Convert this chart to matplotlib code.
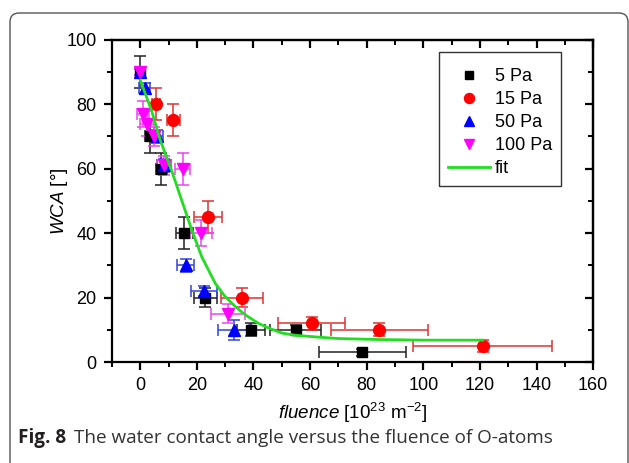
import matplotlib
matplotlib.use("Agg")
import matplotlib.pyplot as plt
from matplotlib.lines import Line2D
from matplotlib.patches import FancyBboxPatch
from matplotlib.transforms import IdentityTransform
from matplotlib.ticker import MultipleLocator

plt.rcParams["font.family"] = ["Liberation Sans", "DejaVu Sans"]
plt.rcParams["mathtext.fontset"] = "custom"
plt.rcParams["mathtext.rm"] = "Liberation Sans"
plt.rcParams["mathtext.it"] = "Liberation Sans:italic"

# 5 Pa
x_5 = [0, 3.5, 7.5, 15.5, 23, 39, 55, 78.5]
y_5 = [90, 70, 60, 40, 20, 10, 10, 3]
xe_5 = [1, 2, 2, 3, 4, 5, 9, 15.5]
ye_5 = [5, 5, 5, 5, 3, 2, 1.5, 1]

# 15 Pa
x_15 = [5.5, 11.7, 24, 36, 60.5, 84.5, 121]
y_15 = [80, 75, 45, 20, 12, 10, 5]
xe_15 = [1.5, 2.4, 5, 7.5, 12, 17, 24.5]
ye_15 = [5, 5, 5, 3, 2, 2, 2]

# 50 Pa
x_50 = [0, 1.5, 6, 8.5, 16, 22.5, 33]
y_50 = [90, 85, 70, 61, 30, 22, 10]
xe_50 = [1, 2, 2, 2.5, 3, 4.5, 5.5]
ye_50 = [1, 1.5, 2, 2, 2, 1.5, 3]

# 100 Pa
x_100 = [0, 1, 2.5, 5, 8.5, 15, 21.5, 31]
y_100 = [90, 77, 74, 70, 61, 60, 40, 15]
xe_100 = [1, 2, 2.5, 2, 2.5, 2.7, 3.8, 6]
ye_100 = [1, 4, 4, 3, 3, 5, 4, 3]

# fit
x_fit = [0, 4, 7, 11, 14.6, 18.2, 21.7, 26.5, 30, 33.6, 37, 41.8, 45, 50, 55, 62, 70, 84, 100, 121]
y_fit = [87.5, 78, 69, 59.6, 50.3, 41, 32.7, 24.4, 20.3, 17.2, 14.7, 12, 10.7, 9.0, 8.3, 7.8, 7.3, 7.0, 6.8, 6.8]

SERIES = [
    ("5 Pa", x_5, y_5, xe_5, ye_5, "s", "black", "#222222", 7),
    ("15 Pa", x_15, y_15, xe_15, ye_15, "o", "#ff0000", "#dd3333", 8.5),
    ("50 Pa", x_50, y_50, xe_50, ye_50, "^", "#0000ff", "#3344dd", 8.5),
    ("100 Pa", x_100, y_100, xe_100, ye_100, "v", "#ff00ff", "#ee44ee", 8.5),
]

fig = plt.figure(figsize=(6.29, 4.63), dpi=100)
ax = fig.add_axes([0.178, 0.218, 0.765, 0.696])

for nome, xs, ys, xe, ye, mk, cor, cor_barra, ms in SERIES:
    ax.errorbar(xs, ys, xerr=xe, yerr=ye, fmt=mk, color=cor, ms=ms, mec=cor,
                ecolor=cor_barra, elinewidth=1.1, capsize=4.5, capthick=1.1)
ax.plot(x_fit, y_fit, color="#22dd22", lw=2, zorder=5)

ax.set_xlim(-10, 160)
ax.set_ylim(0, 100)
ax.xaxis.set_major_locator(MultipleLocator(20))
ax.xaxis.set_minor_locator(MultipleLocator(10))
ax.yaxis.set_major_locator(MultipleLocator(20))
ax.yaxis.set_minor_locator(MultipleLocator(10))
ax.tick_params(which="major", direction="out", length=6, width=1.6, labelsize=13, pad=5)
ax.tick_params(which="minor", direction="out", length=3.5, width=1.4)
for lado in ax.spines.values():
    lado.set_linewidth(1.6)

# ticks espelhados para dentro no topo e à direita
topo = ax.secondary_xaxis("top")
direita = ax.secondary_yaxis("right")
for sec, eixo in ((topo, topo.xaxis), (direita, direita.yaxis)):
    eixo.set_major_locator(MultipleLocator(20))
    eixo.set_minor_locator(MultipleLocator(10))
    sec.tick_params(which="major", direction="in", length=6, width=1.6, labelsize=0)
    sec.tick_params(which="minor", direction="in", length=3.5, width=1.4)
    eixo.set_major_formatter(plt.NullFormatter())
    for lado in sec.spines.values():
        lado.set_linewidth(1.6)

ax.set_xlabel(r"$\mathit{fluence}$ [10$^{23}$ m$^{-2}$]", fontsize=13.5, labelpad=5)
ax.set_ylabel(r"$\mathit{WCA}$ [°]", fontsize=13.5)
ax.yaxis.set_label_coords(-0.087, 0.5)

alcas = [Line2D([], [], ls="none", marker=mk, color=cor, ms=ms * 0.85, label=nome)
         for nome, _, _, _, _, mk, cor, _, ms in SERIES]
alcas.append(Line2D([], [], color="#22dd22", lw=2, label="fit"))
# título vazio só para dar o respiro extra no topo da caixa
leg = ax.legend(handles=alcas, loc="upper left", bbox_to_anchor=(0.680, 0.962),
                fontsize=13, frameon=True, fancybox=False, handlelength=2.3,
                borderpad=0.5, labelspacing=0.33, handletextpad=0.3, borderaxespad=0,
                title=" ", title_fontsize=1)
leg.get_frame().set_edgecolor("black")
leg.get_frame().set_linewidth(1.0)

# moldura arredondada da figura
fig.patches.append(FancyBboxPatch((10, -20), 618, 470, boxstyle="round,pad=0,rounding_size=9",
                                  transform=IdentityTransform(), fill=False,
                                  edgecolor="#555555", lw=1.0))

# legenda da figura: "Fig. 8" em negrito + resto normal
t = fig.text(18 / 629, 1 - 438 / 463, "Fig. 8", fontsize=13.6, fontweight="bold",
             family="Open Sans", color="#231f20", va="center")
fig.canvas.draw()
bb = t.get_window_extent(renderer=fig.canvas.get_renderer())
fig.text((bb.x1 + 8) / 629, 1 - 438 / 463,
         "The water contact angle versus the fluence of O-atoms",
         fontsize=13.6, family="Open Sans", color="#333333", va="center")

fig.savefig("out.png", dpi=100, facecolor="white")
